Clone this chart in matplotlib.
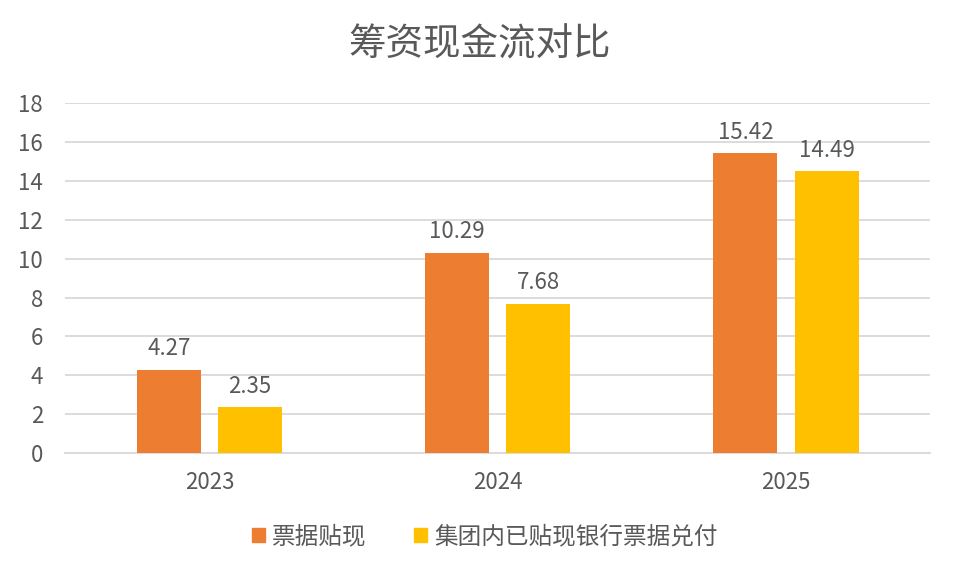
import matplotlib
matplotlib.use("Agg")
import matplotlib.pyplot as plt
from matplotlib.patches import Patch
import numpy as np

plt.rcParams['font.family'] = ['Noto Sans CJK SC', 'DejaVu Sans']

years = ["2023", "2024", "2025"]
series_names = ["票据贴现", "集团内已贴现银行票据兑付"]
discount = [4.27, 10.29, 15.42]
redeem = [2.35, 7.68, 14.49]
yticks = [0, 2, 4, 6, 8, 10, 12, 14, 16, 18]
title = "筹资现金流对比"

colors = ["#ED7D31", "#FFC000"]
text_color = "#595959"

fig = plt.figure(figsize=(9.6, 5.76), dpi=100)
ax = fig.add_axes([0.068, 0.2135, 0.901, 0.6075])

x = np.arange(len(years))
width = 0.222
offset = 0.141
for vals, col, dx in [(discount, colors[0], -offset), (redeem, colors[1], offset)]:
    bars = ax.bar(x + dx, vals, width, color=col, zorder=3)
    for b, v in zip(bars, vals):
        ax.annotate(f"{v:.2f}", (b.get_x() + b.get_width() / 2, v),
                    xytext=(0, 7), textcoords="offset points",
                    ha="center", va="bottom", fontsize=16, color=text_color)

ax.set_xlim(-0.5, len(years) - 0.5)
ax.set_ylim(0, 18)
ax.set_yticks(yticks)
ax.set_yticklabels([str(t) for t in yticks])
ax.set_xticks(x)
ax.set_xticklabels(years)
ax.tick_params(axis="both", length=0, labelsize=16, labelcolor=text_color)
ax.tick_params(axis="y", pad=16)
ax.tick_params(axis="x", pad=13)
ax.grid(axis="y", color="#D9D9D9", linewidth=1.3, zorder=0)
for s in ["top", "right", "left"]:
    ax.spines[s].set_visible(False)
ax.spines["bottom"].set_color("#D9D9D9")
ax.spines["bottom"].set_linewidth(1.3)

fig.text(0.5, 1 - 45 / 576, title, ha="center", va="center",
         fontsize=27, color=text_color)

handles = [Patch(color=c) for c in colors]
fig.legend(handles, series_names, loc="center", bbox_to_anchor=(0.505, 1 - 537 / 576),
           ncol=2, frameon=False, fontsize=17, labelcolor=text_color,
           handlelength=0.55, handleheight=0.55, handletextpad=0.3,
           columnspacing=2.0)

fig.savefig("out.png", dpi=100)
